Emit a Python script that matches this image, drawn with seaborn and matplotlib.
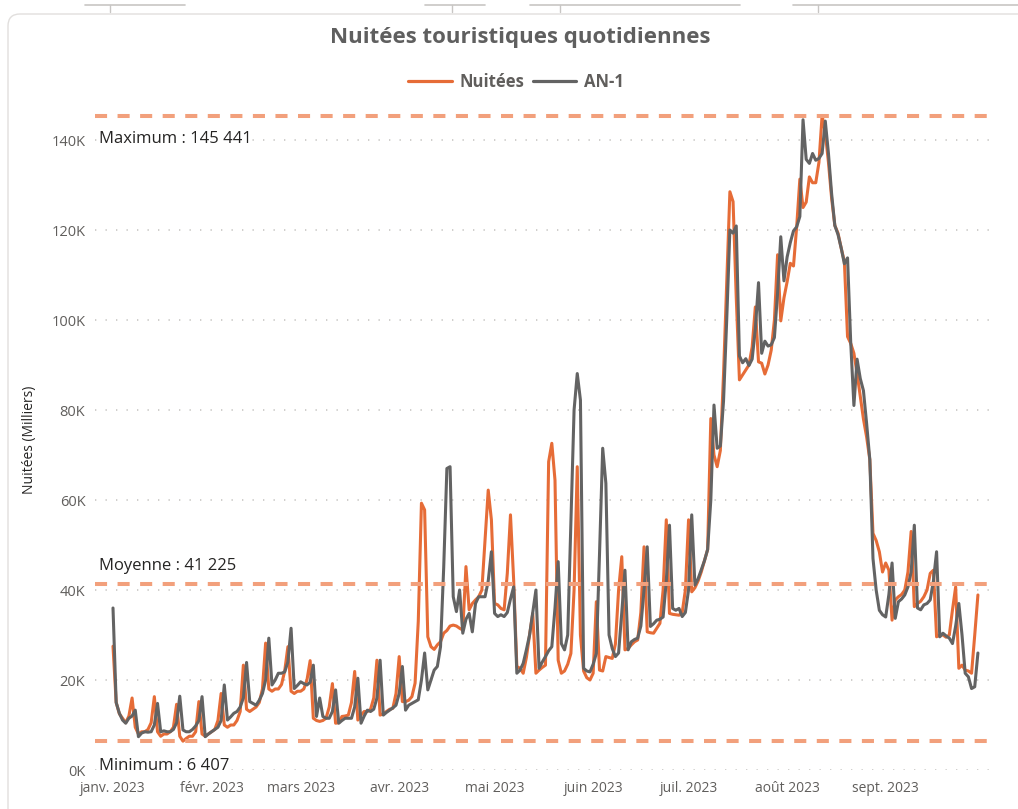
import pandas as pd
import matplotlib
matplotlib.use("Agg")
import matplotlib.pyplot as plt
import seaborn as sns
from matplotlib.lines import Line2D
from matplotlib.patches import FancyBboxPatch
from matplotlib.ticker import FuncFormatter
from matplotlib.transforms import blended_transform_factory

# Nuitées 2023, daily, in thousands (one list per month)
nuitees_jan = [27.5, 15, 12.5, 11.5, 10.5, 12, 16,
               9.5, 8, 8.5, 8.5, 9, 10.5, 16.3,
               8.5, 7.5, 8, 8, 8.5, 9.5, 14.6,
               7.5, 6.407, 7, 7.5, 7.5, 8.5, 15.2,
               8, 7.5, 8]
nuitees_feb = [8.5, 9, 11, 17,
               10, 9.5, 10, 10, 11, 13, 23.3,
               13.5, 13, 13.5, 14, 15, 18, 28.2,
               18, 17.5, 18, 18, 19, 22, 27.4,
               17.5, 17, 17.5]
nuitees_mar = [17.5, 18, 20, 24.3,
               11.5, 11, 10.8, 11, 11.5, 14, 19.2,
               10.4, 10.5, 11.9, 12, 12.2, 15, 21.9,
               11.1, 12.2, 13, 13, 13.5, 16, 24.4,
               12.2, 12.5, 13, 13.5, 13.7, 17]
nuitees_apr = [25.2, 15.2, 15.2, 15.5, 16.3, 19.3, 33,
               59.3, 57.8, 29.6, 27.4, 26.8, 27.8, 28.5,
               30.4, 31, 32, 32.2, 32, 31.5, 31.1,
               45.2, 35.6, 37, 37.8, 38.5, 40, 51.1,
               62.2, 55.6]
nuitees_may = [37, 36.7, 35.9, 35.6, 43.7, 56.7, 42.2,
               23, 22.6, 21.5, 25, 30, 34.8, 21.5,
               22.2, 22.8, 23.3, 68.5, 72.6, 64.4, 24.4,
               21.5, 22, 23.5, 25.9, 40, 67.4, 30,
               22, 20.5, 20]
nuitees_jun = [21.5, 37.4, 22.2, 22, 25.2, 25, 24.8,
               28, 40, 47.4, 26.7, 27, 27.8, 28.5,
               28.9, 35, 49.6, 30.7, 30.5, 30.4, 31.5,
               32.6, 40, 55.6, 34.8, 34.6, 34.5, 34.4,
               35, 40]
nuitees_jul = [55.6, 39.6, 40.5, 42, 44, 46.5, 49,
               78.1, 70, 67.4, 71, 88, 108, 128.5,
               126.3, 105, 86.7, 87.8, 88.9, 90, 94,
               102.9, 90.7, 90.4, 88, 90, 93.3, 100,
               114.5, 99.8, 104.9]
nuitees_aug = [108.5, 112.6, 112, 120.7, 131.3, 125, 126.2,
               131.8, 130.5, 130.5, 135, 145.441, 141.6, 135,
               127, 121, 119.3, 116, 113, 96.3, 94.8,
               92.6, 88.1, 83, 78, 74, 69, 52.6,
               51, 48.5, 44]
nuitees_sep = [46, 44.4, 33.3, 37.8, 38.5, 39, 40,
               44, 53, 36.3, 37, 37.5, 38.5, 40,
               43.7, 44.4, 29.6, 30, 30, 29.5, 30,
               35.6, 40.7, 22.6, 23.3, 22.2, 22, 21.5,
               30, 38.9]

# AN-1 (same dates one year earlier), in thousands
an1_jan = [36, 15, 12.6, 11.1, 10.4, 11.5, 12,
           13.3, 7.4, 8.2, 8.5, 8.4, 8.5, 10,
           14.8, 8.5, 8.7, 8.5, 8.5, 9, 10.5,
           16.4, 8.9, 8.5, 8.5, 9, 9.8, 11,
           16.3, 7.4, 8]
an1_feb = [8.5, 9, 9.5, 11,
           18.9, 11.1, 11.8, 12.6, 13, 14, 16,
           23.9, 15.2, 14.8, 14.4, 15.5, 17, 20,
           29.3, 18.9, 20, 21.5, 21.5, 21.8, 24,
           31.5, 18.1, 18.8]
an1_mar = [19.6, 19.2, 18.9, 19.5,
           23.3, 11.9, 16, 11.9, 11.5, 11.5, 13,
           17.8, 10.4, 11, 11.5, 11.5, 11.5, 14,
           20.4, 10.4, 12, 13.3, 13, 13.5, 16,
           24.4, 12.2, 12.8, 13.3, 13.8, 14.4]
an1_apr = [17, 23, 13.3, 14.4, 14.8, 15.2, 15.6,
           20, 26, 17.8, 20, 22.2, 23, 27.4,
           45, 67, 67.4, 38.5, 35.2, 40, 30.4,
           33.5, 34.8, 30.7, 37, 38.5, 38.5, 38.5,
           42, 48.5]
an1_may = [34.8, 34.1, 34.5, 34.1, 35, 38, 40.7,
           21.5, 22.2, 23.7, 26.7, 30, 35, 40,
           22.6, 24, 25.2, 26.5, 27.4, 36, 46.3,
           28.1, 26.7, 30, 55, 80, 88.1, 82.2,
           22.6, 22, 21.8]
an1_jun = [23.5, 25.9, 48, 71.5, 63.7, 30, 27,
           25.2, 26, 35, 44.4, 26.7, 28.5, 29,
           29.3, 32, 40, 49.6, 31.9, 32.5, 33.3,
           33.5, 34, 42, 54.4, 35.9, 35.5, 35.9,
           34.1, 35]
an1_jul = [40, 56.7, 41.1, 42.5, 44.5, 46.5, 49,
           60, 81.1, 71.5, 72, 82, 100, 120,
           119.3, 120.9, 92, 90.5, 91.4, 89.9, 91.3,
           98, 108.3, 92.6, 95.3, 94.2, 94.5, 96.1,
           106, 118.5, 108.7]
an1_aug = [114, 117.2, 119.8, 120.7, 123, 144.5, 135.7,
           134.8, 137, 135.5, 135.9, 137, 144.2, 137,
           128, 121, 119, 116, 112.5, 113.8, 95,
           81, 91.3, 87, 84.3, 77, 69, 47,
           40, 35.5, 34.5]
an1_sep = [34, 39, 46, 33.7, 37.4, 38, 38.9,
           40.7, 44, 54.4, 36, 35.6, 36.7, 37,
           37.8, 42, 48.5, 29.6, 30.4, 29.8, 29.3,
           28.1, 32, 37, 30, 21.5, 20.7, 18.1,
           18.5, 26]

month_labels = ['janv. 2023', 'févr. 2023', 'mars 2023', 'avr. 2023', 'mai 2023',
                'juin 2023', 'juil. 2023', 'août 2023', 'sept. 2023']
y_ticks = [0, 20000, 40000, 60000, 80000, 100000, 120000, 140000]

ref_lines = [('Maximum', 145441), ('Moyenne', 41225), ('Minimum', 6407)]

ORANGE = '#E66C37'
GREY = '#636363'
REF = '#F2A07C'
TXT = '#605E5C'

nuitees = (nuitees_jan + nuitees_feb + nuitees_mar + nuitees_apr + nuitees_may
           + nuitees_jun + nuitees_jul + nuitees_aug + nuitees_sep)
an1 = an1_jan + an1_feb + an1_mar + an1_apr + an1_may + an1_jun + an1_jul + an1_aug + an1_sep
dates = pd.date_range('2023-01-01', '2023-09-30', freq='D')
assert len(nuitees) == len(dates) == len(an1)

df = pd.concat([
    pd.DataFrame({'Date': dates, 'Valeur': [v * 1000 for v in nuitees], 'Série': 'Nuitées'}),
    pd.DataFrame({'Date': dates, 'Valeur': [v * 1000 for v in an1], 'Série': 'AN-1'}),
])

sns.set_theme(style="white")
plt.rcParams['font.family'] = ['Open Sans', 'DejaVu Sans']

W, H = 1018, 809
fig = plt.figure(figsize=(W / 100, H / 100), dpi=100)
ax = fig.add_axes([95 / W, 39 / H, 895 / W, 666 / H])

sns.lineplot(data=df, x='Date', y='Valeur', hue='Série', hue_order=['Nuitées', 'AN-1'],
             palette={'Nuitées': ORANGE, 'AN-1': GREY}, linewidth=2.2, legend=False,
             ax=ax, zorder=2)

ax.set_ylim(0, 148000)
ax.set_xlim(dates[0] - pd.Timedelta(days=5.66), dates[-1] + pd.Timedelta(days=3.8))

# dotted horizontal grid
for y in y_ticks:
    ax.axhline(y, color='#C8C6C4', lw=1.2, ls=(0, (0.8, 5.5)), zorder=0)

# reference lines + labels
tr = blended_transform_factory(ax.transAxes, ax.transData)
label_y = {'Maximum': 140200, 'Moyenne': 45300, 'Minimum': 900}
for name, val in ref_lines:
    ax.axhline(val, color=REF, lw=2.9, ls=(0, (3, 2.6)), zorder=3)
    txt = f"{name} : {val:,}".replace(',', ' ')
    ax.text(0.004, label_y[name], txt, transform=tr, ha='left', va='center',
            fontsize=12, color='#252423', zorder=4,
            bbox=dict(facecolor='white', edgecolor='none', pad=0.5))

ax.set_yticks(y_ticks)
ax.yaxis.set_major_formatter(FuncFormatter(lambda v, p: f'{int(v / 1000)}K'))
ax.set_xticks(pd.date_range('2023-01-01', '2023-09-01', freq='MS'))
ax.set_xticklabels(month_labels)
ax.tick_params(axis='y', length=0, pad=7, labelsize=10.5, labelcolor=TXT)
ax.tick_params(axis='x', length=0, pad=8, labelsize=10, labelcolor=TXT)
ax.set_xlabel('')
ax.set_ylabel('')
for s in ax.spines.values():
    s.set_visible(False)
ax.set_facecolor('none')

fig.text(30 / W, 1 - 440 / H, 'Nuitées (Milliers)', rotation=90, ha='center', va='center',
         fontsize=10, color='#252423')

fig.text(520 / W, 1 - 37 / H, 'Nuitées touristiques quotidiennes', ha='center', va='center',
         fontsize=16, fontweight='bold', color='#5F5F5F')

handles = [Line2D([], [], color=ORANGE, lw=2.3), Line2D([], [], color=GREY, lw=2.3)]
fig.legend(handles, ['Nuitées', 'AN-1'], loc='center', bbox_to_anchor=(516 / W, 1 - 82 / H),
           ncol=2, frameon=False, handlelength=2.6, handletextpad=0.45, columnspacing=0.55,
           prop={'weight': 'bold', 'size': 12}, labelcolor=TXT)

# card border and page fragments at the top
card = FancyBboxPatch((8 / 100, -0.3), 10.5, (H - 14) / 100 + 0.3,
                      boxstyle='round,pad=0,rounding_size=0.12',
                      transform=fig.dpi_scale_trans, facecolor='none',
                      edgecolor='#E1DFDD', lw=1.0, zorder=0)
fig.add_artist(card)
for x0, x1, xt in [(85, 185, 110), (425, 485, 452), (530, 740, 560), (793, 1018, 818)]:
    fig.add_artist(Line2D([x0 / W, x1 / W], [1 - 5 / H, 1 - 5 / H], color='#C8C6C4', lw=1.2))
    fig.add_artist(Line2D([xt / W, xt / W], [1 - 5 / H, 1 - 12 / H], color='#C8C6C4', lw=1.0))

fig.savefig('out.png', dpi=100)
